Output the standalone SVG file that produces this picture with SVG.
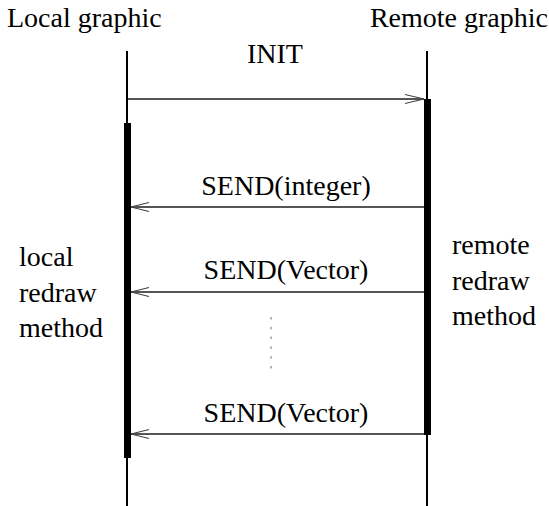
<svg xmlns="http://www.w3.org/2000/svg" width="549" height="506" viewBox="0 0 549 506">
<style>
.t{font-family:"Times New Roman",Times,"Liberation Serif",serif;font-size:28px;fill:#000}
.life{stroke:#000;stroke-width:2;fill:none}
.bar{fill:#000}
.msg{stroke:#555;stroke-width:1.8;fill:none}
.head{stroke:#444;stroke-width:1.2;fill:none}
</style>
<rect width="549" height="506" fill="#fff"/>
<g id="local">
<text class="t" x="7" y="27">Local graphic</text>
<line class="life" x1="127" y1="51" x2="127" y2="506"/>
<rect class="bar" x="124" y="123" width="7" height="335"/>
<text class="t" x="19" y="266">local</text>
<text class="t" x="19" y="302">redraw</text>
<text class="t" x="19" y="337">method</text>
</g>
<g id="remote">
<text class="t" x="548" y="27" text-anchor="end">Remote graphic</text>
<line class="life" x1="427" y1="51" x2="427" y2="506"/>
<rect class="bar" x="424" y="99" width="7" height="336"/>
<text class="t" x="452" y="254">remote</text>
<text class="t" x="452" y="290">redraw</text>
<text class="t" x="452" y="325">method</text>
</g>
<g id="connectors">
<line class="msg" x1="128" y1="99" x2="424" y2="99"/>
<polyline class="head" points="405,94.5 424,99 405,103.5"/>
<text class="t" x="275" y="63" text-anchor="middle">INIT</text>
<line class="msg" x1="424" y1="207" x2="131" y2="207"/>
<polyline class="head" points="149,202.5 131,207 149,211.5"/>
<text class="t" x="286" y="195" text-anchor="middle">SEND(integer)</text>
<line class="msg" x1="424" y1="292" x2="131" y2="292"/>
<polyline class="head" points="149,287.5 131,292 149,296.5"/>
<text class="t" x="286" y="279" text-anchor="middle">SEND(Vector)</text>
<line class="msg" x1="424" y1="434" x2="131" y2="434"/>
<polyline class="head" points="149,429.5 131,434 149,438.5"/>
<text class="t" x="286" y="422" text-anchor="middle">SEND(Vector)</text>
<line x1="271" y1="317" x2="271" y2="370" stroke="#666" stroke-width="1" stroke-dasharray="2.5 7.3"/>
</g>
</svg>
